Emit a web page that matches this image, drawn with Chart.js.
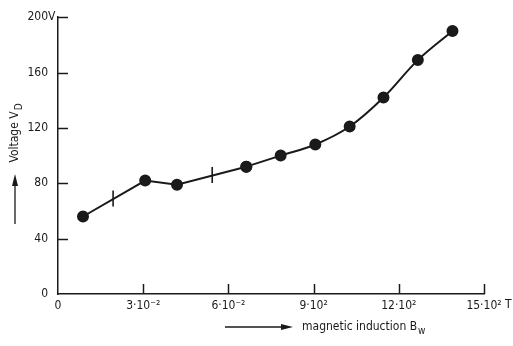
<!DOCTYPE html>
<html>
<head>
<meta charset="utf-8">
<script src="https://cdn.jsdelivr.net/npm/chart.js@4/dist/chart.umd.min.js"></script>
<style>
  html, body { margin: 0; padding: 0; background: #fff; }
  #wrap { width: 513px; height: 346px; position: relative; }
  canvas { display: block; }
</style>
</head>
<body>
<div id="wrap"><canvas id="c" width="513" height="346"></canvas></div>
<script>
// Measured points: magnetic induction (T) vs. voltage (V)
const inductionT = [0.0088, 0.0307, 0.0419, 0.0663, 0.0784, 0.0906, 0.1027, 0.1146, 0.1267, 0.1389];
const voltageV   = [56, 82, 79, 92, 100, 108, 121, 142, 169, 190];

// Short vertical marks on the curve
const markT = [0.0194, 0.0543];
const markV = [69, 86];

// Axis ticks
const xTickValues = [0, 0.03, 0.06, 0.09, 0.12, 0.15];
const xTickLabels = ['0', '3·10⁻²', '6·10⁻²', '9·10²', '12·10²', '15·10²'];
const yTickValues = [0, 40, 80, 120, 160, 200];
const yTickLabels = ['0', '40', '80', '120', '160', '200'];

const FONT = '"DejaVu Sans Condensed", "DejaVu Sans", sans-serif';
const INK = '#1a1a1a';

const pts = (xs, ys) => xs.map((x, i) => ({ x, y: ys[i] }));
const allPts = pts(inductionT, voltageV);

// Inward tick marks, unit labels and axis titles with arrows
const decorations = {
  id: 'decorations',
  afterDraw(chart) {
    const { ctx, scales: { x, y } } = chart;
    const left = x.left, bottom = y.bottom;
    ctx.save();
    ctx.strokeStyle = INK;
    ctx.fillStyle = INK;
    ctx.lineWidth = 1.5;
    // y ticks pointing right
    yTickValues.forEach(v => {
      if (v === 0) return;
      const py = Math.round(y.getPixelForValue(v)) + 0.5;
      ctx.beginPath(); ctx.moveTo(left, py); ctx.lineTo(left + 10, py); ctx.stroke();
    });
    // x ticks pointing up
    xTickValues.forEach(v => {
      if (v === 0) return;
      const px = Math.round(x.getPixelForValue(v)) + 0.5;
      ctx.beginPath(); ctx.moveTo(px, bottom); ctx.lineTo(px, bottom - 10); ctx.stroke();
    });

    ctx.font = '12px ' + FONT;
    // unit "V" after the top y label
    ctx.textBaseline = 'middle';
    ctx.textAlign = 'left';
    ctx.fillText('V', left - 10, y.getPixelForValue(200));
    // unit "T" after the last x label
    ctx.textBaseline = 'top';
    ctx.fillText('T', x.getPixelForValue(0.15) + 21, bottom + 5);

    // x title with arrow
    const ty = 327;
    ctx.lineWidth = 1.3;
    ctx.beginPath(); ctx.moveTo(225, ty); ctx.lineTo(284, ty); ctx.stroke();
    ctx.beginPath(); ctx.moveTo(293, ty); ctx.lineTo(281, ty - 3); ctx.lineTo(281, ty + 3); ctx.closePath(); ctx.fill();
    ctx.textBaseline = 'middle';
    ctx.textAlign = 'left';
    const main = 'magnetic induction B';
    ctx.fillText(main, 302, ty);
    const w = ctx.measureText(main).width;
    ctx.font = '10px ' + FONT;
    ctx.fillText('w', 302 + w + 1, ty + 4);

    // y title (rotated) with arrow
    ctx.font = '12px ' + FONT;
    const yMain = 'Voltage V';
    const wm = ctx.measureText(yMain).width;
    ctx.font = '10px ' + FONT;
    const ws = ctx.measureText('D').width;
    const total = wm + ws + 1;
    ctx.save();
    ctx.translate(15, 133);
    ctx.rotate(-Math.PI / 2);
    ctx.textAlign = 'left';
    ctx.font = '12px ' + FONT;
    ctx.fillText(yMain, -total / 2, 0);
    ctx.font = '10px ' + FONT;
    ctx.fillText('D', -total / 2 + wm + 1, 4);
    ctx.restore();
    ctx.lineWidth = 1.3;
    ctx.beginPath(); ctx.moveTo(15, 224); ctx.lineTo(15, 183); ctx.stroke();
    ctx.beginPath(); ctx.moveTo(15, 174); ctx.lineTo(12, 186); ctx.lineTo(18, 186); ctx.closePath(); ctx.fill();
    ctx.restore();
  }
};

new Chart(document.getElementById('c'), {
  type: 'scatter',
  data: {
    datasets: [
      {
        data: allPts.slice(0, 4),
        showLine: true,
        tension: 0,
        borderColor: INK,
        borderWidth: 2,
        pointRadius: 5,
        pointBackgroundColor: INK,
        pointBorderColor: INK
      },
      {
        data: allPts.slice(3),
        showLine: true,
        tension: 0.35,
        borderColor: INK,
        borderWidth: 2,
        pointRadius: 5,
        pointBackgroundColor: INK,
        pointBorderColor: INK
      },
      {
        data: pts(markT, markV),
        showLine: false,
        pointStyle: 'line',
        rotation: 90,
        pointRadius: 8,
        borderColor: INK,
        borderWidth: 1.6
      }
    ]
  },
  plugins: [decorations],
  options: {
    responsive: false,
    animation: false,
    devicePixelRatio: 1,
    layout: { padding: { top: 10, right: 29, left: 0, bottom: 0 } },
    plugins: { legend: { display: false }, tooltip: { enabled: false } },
    scales: {
      x: {
        type: 'linear',
        min: 0,
        max: 0.15,
        afterBuildTicks: s => { s.ticks = xTickValues.map(v => ({ value: v })); },
        afterFit: s => { s.height = 52; },
        grid: { display: false, drawTicks: false },
        border: { display: true, color: INK, width: 1.5 },
        ticks: {
          padding: 5,
          color: INK,
          font: { family: FONT, size: 12 },
          maxRotation: 0,
          autoSkip: false,
          callback: (v, i) => xTickLabels[i]
        }
      },
      y: {
        type: 'linear',
        min: 0,
        max: 200,
        afterBuildTicks: s => { s.ticks = yTickValues.map(v => ({ value: v })); },
        afterFit: s => { s.width = 58; },
        grid: { display: false, drawTicks: false },
        border: { display: true, color: INK, width: 1.5 },
        ticks: {
          padding: 10,
          color: INK,
          font: { family: FONT, size: 12 },
          autoSkip: false,
          callback: (v, i) => yTickLabels[i]
        }
      }
    }
  }
});
</script>
</body>
</html>
